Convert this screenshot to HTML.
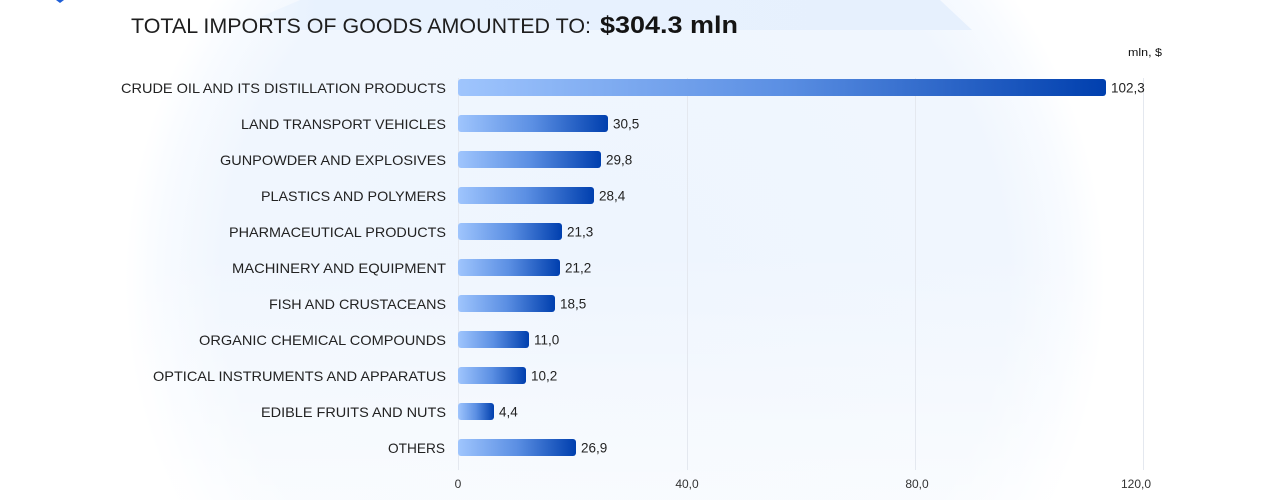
<!DOCTYPE html>
<html><head><meta charset="utf-8"><style>
html,body{margin:0;padding:0;background:#fff;}
svg{display:block;}
text{font-family:"Liberation Sans",sans-serif;}
</style></head><body>
<svg width="1280" height="500" viewBox="0 0 1280 500" xmlns="http://www.w3.org/2000/svg">
<defs>
<radialGradient id="glow" cx="615" cy="280" r="490" gradientUnits="userSpaceOnUse">
<stop offset="0" stop-color="#eef5fe"/>
<stop offset="0.8" stop-color="#f0f6fe"/>
<stop offset="0.93" stop-color="#f8fbff"/>
<stop offset="1" stop-color="#ffffff"/>
</radialGradient>
<linearGradient id="fade" x1="0" y1="0" x2="0" y2="1">
<stop offset="0" stop-color="#ffffff" stop-opacity="0"/>
<stop offset="0.5" stop-color="#ffffff" stop-opacity="0"/>
<stop offset="1" stop-color="#ffffff" stop-opacity="0.6"/>
</linearGradient>
<linearGradient id="topg" x1="0" y1="0" x2="1" y2="0">
<stop offset="0" stop-color="#e8f2fe" stop-opacity="0"/>
<stop offset="0.12" stop-color="#e8f2fe"/>
<stop offset="1" stop-color="#e6f0fd"/>
</linearGradient>
<linearGradient id="bar" x1="0" y1="0" x2="1" y2="0">
<stop offset="0" stop-color="#9fc5fd"/>
<stop offset="0.5" stop-color="#5b8fe3"/>
<stop offset="1" stop-color="#003fae"/>
</linearGradient>
</defs>
<rect width="1280" height="500" fill="#fff"/>
<rect x="0" y="0" width="1280" height="500" fill="url(#glow)"/>
<rect x="0" y="0" width="1280" height="500" fill="url(#fade)"/>
<polygon points="300,0 940,0 972,30 230,30" fill="url(#topg)"/>
<path d="M56 0 L64 0 L60 3 Z" fill="#1f5fd6"/>

<!-- title -->
<text x="131" y="33" font-size="21" fill="#1e1e1e" textLength="460" lengthAdjust="spacingAndGlyphs">TOTAL IMPORTS OF GOODS AMOUNTED TO:</text>
<text x="600" y="33" font-size="24" font-weight="bold" fill="#141414" textLength="138" lengthAdjust="spacingAndGlyphs">$304.3 mln</text>
<text x="1162" y="56" font-size="11" fill="#111" text-anchor="end" textLength="34" lengthAdjust="spacingAndGlyphs">mln, $</text>

<!-- grid -->
<g stroke="#e4e8ef" stroke-width="1">
<line x1="458.5" y1="78" x2="458.5" y2="470"/>
<line x1="687.5" y1="78" x2="687.5" y2="470"/>
<line x1="915.5" y1="78" x2="915.5" y2="470"/>
<line x1="1143.5" y1="78" x2="1143.5" y2="470"/>
</g>

<!-- bars -->
<g fill="url(#bar)">
<rect x="458" y="79" width="648" height="17" rx="3"/>
<rect x="458" y="115" width="150" height="17" rx="3"/>
<rect x="458" y="151" width="143" height="17" rx="3"/>
<rect x="458" y="187" width="136" height="17" rx="3"/>
<rect x="458" y="223" width="104" height="17" rx="3"/>
<rect x="458" y="259" width="102" height="17" rx="3"/>
<rect x="458" y="295" width="97" height="17" rx="3"/>
<rect x="458" y="331" width="71" height="17" rx="3"/>
<rect x="458" y="367" width="68" height="17" rx="3"/>
<rect x="458" y="403" width="36" height="17" rx="3"/>
<rect x="458" y="439" width="118" height="17" rx="3"/>
</g>

<!-- category labels -->
<g font-size="14" fill="#222" text-anchor="end">
<text x="446" y="93" textLength="325" lengthAdjust="spacingAndGlyphs">CRUDE OIL AND ITS DISTILLATION PRODUCTS</text>
<text x="446" y="129" textLength="205" lengthAdjust="spacingAndGlyphs">LAND TRANSPORT VEHICLES</text>
<text x="446" y="165" textLength="226" lengthAdjust="spacingAndGlyphs">GUNPOWDER AND EXPLOSIVES</text>
<text x="446" y="201" textLength="185" lengthAdjust="spacingAndGlyphs">PLASTICS AND POLYMERS</text>
<text x="446" y="237" textLength="217" lengthAdjust="spacingAndGlyphs">PHARMACEUTICAL PRODUCTS</text>
<text x="446" y="273" textLength="214" lengthAdjust="spacingAndGlyphs">MACHINERY AND EQUIPMENT</text>
<text x="446" y="309" textLength="177" lengthAdjust="spacingAndGlyphs">FISH AND CRUSTACEANS</text>
<text x="446" y="345" textLength="247" lengthAdjust="spacingAndGlyphs">ORGANIC CHEMICAL COMPOUNDS</text>
<text x="446" y="381" textLength="293" lengthAdjust="spacingAndGlyphs">OPTICAL INSTRUMENTS AND APPARATUS</text>
<text x="446" y="417" textLength="185" lengthAdjust="spacingAndGlyphs">EDIBLE FRUITS AND NUTS</text>
<text x="445" y="453" textLength="57" lengthAdjust="spacingAndGlyphs">OTHERS</text>
</g>

<!-- value labels -->
<g font-size="13.5" fill="#222">
<text x="1111" y="92.5">102,3</text>
<text x="613" y="128.5">30,5</text>
<text x="606" y="164.5">29,8</text>
<text x="599" y="200.5">28,4</text>
<text x="567" y="236.5">21,3</text>
<text x="565" y="272.5">21,2</text>
<text x="560" y="308.5">18,5</text>
<text x="534" y="344.5">11,0</text>
<text x="531" y="380.5">10,2</text>
<text x="499" y="416.5">4,4</text>
<text x="581" y="452.5">26,9</text>
</g>

<!-- tick labels -->
<g font-size="12" fill="#333" text-anchor="middle">
<text x="458" y="488">0</text>
<text x="687" y="488">40,0</text>
<text x="917" y="488">80,0</text>
<text x="1136" y="488">120,0</text>
</g>
</svg>
</body></html>
